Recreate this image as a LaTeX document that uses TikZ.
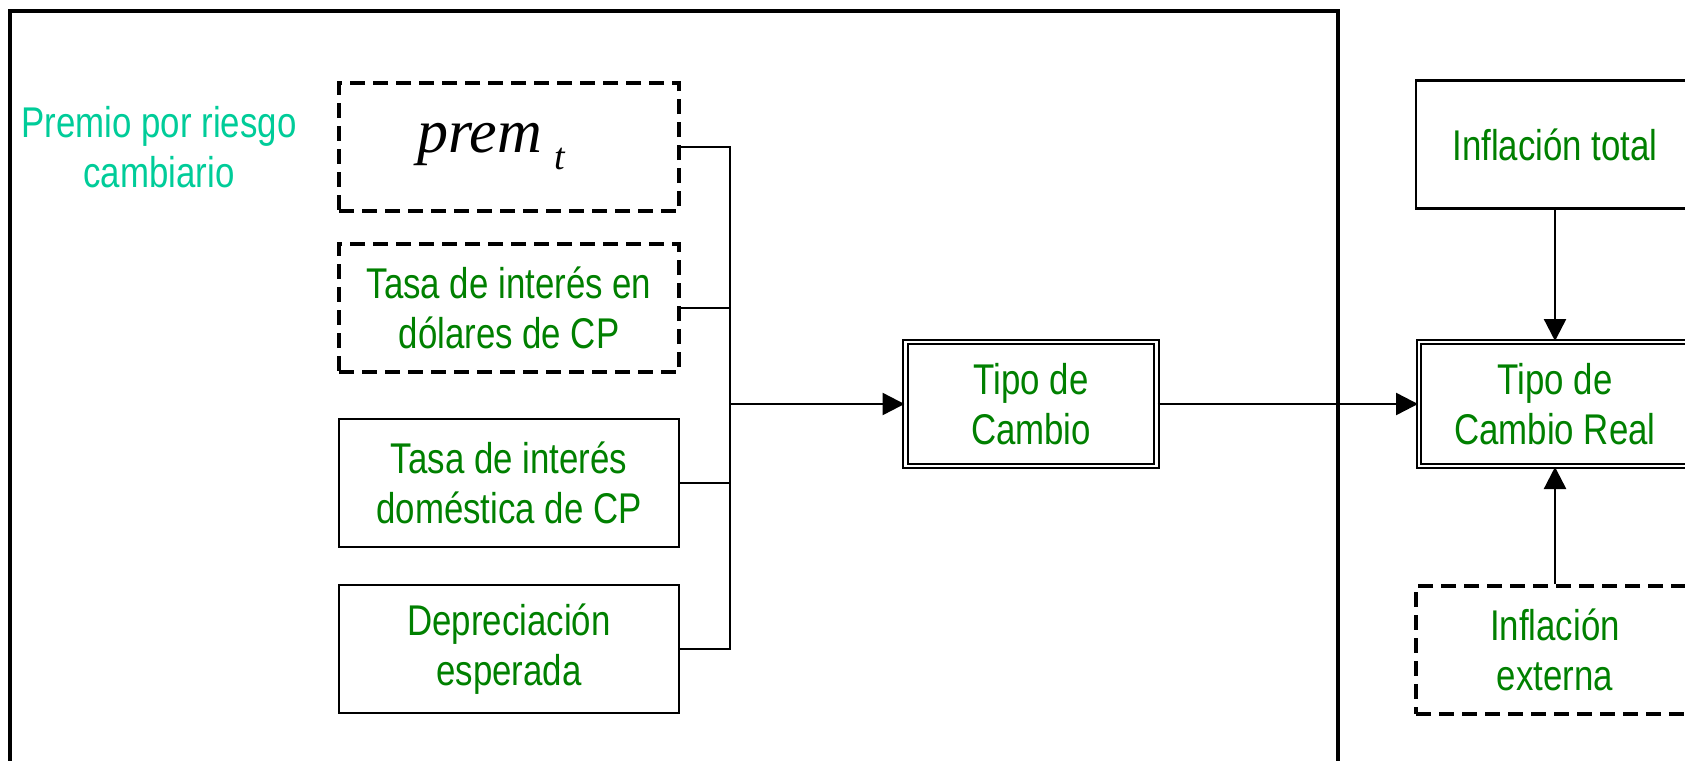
\documentclass[tikz,border=0pt]{standalone}
\usepackage{fontspec}
\setmainfont{Liberation Sans}[FakeStretch=0.81]
\newfontfamily\premfont{Liberation Serif}
\usetikzlibrary{positioning, arrows.meta}
\definecolor{boxgreen}{RGB}{0,128,0}
\definecolor{riskteal}{RGB}{0,204,153}

\begin{document}
\begin{tikzpicture}[x=1pt, y=-1pt, on grid, >={Triangle[length=22pt,width=22pt]},
  every node/.style={font=\fontsize{43}{49.5}\selectfont, text=boxgreen, align=center},
  solidbox/.style={draw, line width=2.4pt, minimum width=340pt, minimum height=128pt, inner sep=0pt},
  dashbox/.style={solidbox, line width=3.6pt, dash pattern=on 15pt off 8pt},
  dblbox/.style={draw, double, double distance=2.5pt, line width=2pt, minimum height=124pt, inner sep=0pt},
  conn/.style={line width=2.4pt}]

\useasboundingbox (0,0) rectangle (1685,760);

% Outer frame
	\draw[line width=4.5pt] (10,11) rectangle (1338,800);

% Left column
	\node (prem)	[dashbox, text=black] at (509,147)	{\premfont\itshape\fontsize{62}{70}\selectfont prem\hspace{12pt}\raisebox{-17pt}{\fontsize{38}{42}\selectfont t}\hspace*{36pt}};
	\node (usd)		[dashbox, below=161pt of prem]		{Tasa de interés en\\dólares de CP};
	\node (dom)		[solidbox, below=175pt of usd]		{Tasa de interés\\doméstica de CP};
	\node (dep)		[solidbox, below=166pt of dom]		{Depreciación\\esperada};
	\node (premio)	[left=350pt of prem, text=riskteal]	{Premio por riesgo\\cambiario};

% Exchange rates
	\node (tc)		[dblbox, minimum width=251pt] at (1031,404)		{Tipo de\\Cambio};
	\node (tcr)		[dblbox, minimum width=272pt, right=524pt of tc]	{Tipo de\\Cambio Real};
	\node (inf_tot)	[solidbox, minimum width=278pt, above=259.5pt of tcr]	{Inflación total};
	\node (inf_ext)	[dashbox, minimum width=278pt, below=246pt of tcr]		{Inflación\\externa};

	\coordinate (bus) at (730,404);

% Connectors
	\draw[conn] (prem.east) -| (bus) (usd.east) -| (bus) (dom.east) -| (bus) (dep.east) -| (bus);
	\path[conn, ->]
		(bus)		edge (tc)
		(tc)		edge (tcr)
		(inf_tot)	edge (tcr)
		(inf_ext)	edge (tcr)
	;

\end{tikzpicture}
\end{document}
